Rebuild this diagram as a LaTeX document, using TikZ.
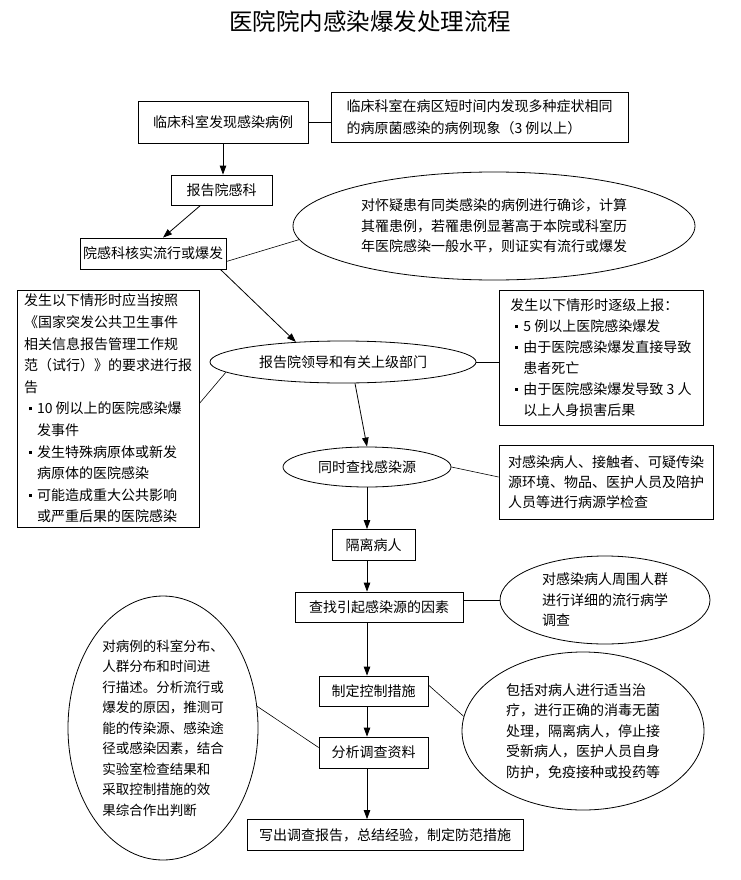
\documentclass[tikz,border=0pt]{standalone}
\usepackage{fontspec}
\setmainfont{Noto Sans CJK SC}
\usetikzlibrary{shapes.geometric, arrows.meta, positioning, calc}
\newcommand{\sqb}{\raisebox{3.5pt}{\rule{3pt}{3pt}}}
\newcommand{\bul}{\hspace*{5pt}\sqb\hspace{5pt}}
\tikzset{
    box/.style={
        rectangle, draw=black, line width=0.8pt, inner sep=0pt,
        align=center, font=\fontsize{14pt}{21.5pt}\selectfont
    },
    notebox/.style={box, align=left},
    oval/.style={
        ellipse, draw=black, line width=0.8pt, inner sep=0pt,
        align=left, font=\fontsize{14pt}{20.5pt}\selectfont
    },
    arrow/.style={-{Triangle[length=9pt, width=6.5pt]}, line width=0.8pt},
    link/.style={line width=0.6pt},
    heading/.style={font=\fontsize{23.5pt}{28pt}\selectfont},
}

\begin{document}
\begin{tikzpicture}[x=1pt, y=-1pt]
    \fill[white] (0,0) rectangle (740,880);
    \useasboundingbox (0,0) rectangle (740,880);

    \node[heading] (title) at (370, 22) {医院院内感染爆发处理流程};

    \coordinate (col) at (367, 0);

    \node[box, minimum width=170pt, minimum height=42pt] (clinic) at (223, 122) {临床科室发现感染病例};
    \node[notebox, minimum width=297pt, minimum height=50pt] (clinicnote) at (479.5, 117)
        {临床科室在病区短时间内发现多种症状相同\\的病原菌感染的病例现象（3 例以上）};

    \node[box, minimum width=101pt, minimum height=30pt] (notify) at (221.5, 190) {报告院感科};
    \node[box, minimum width=146pt, minimum height=31pt] (verify) at (153, 253.5) {院感科核实流行或爆发};
    \node[oval, minimum width=402pt, minimum height=108pt] (verifynote) at (494, 226)
        {对怀疑患有同类感染的病例进行确诊，计算\\其罹患例，若罹患例显著高于本院或科室历\\年医院感染一般水平，则证实有流行或爆发};

    \node[oval, minimum width=266pt, minimum height=42pt, align=center] (leaders) at (343, 362) {报告院领导和有关上级部门};
    \node[notebox, minimum width=182pt, minimum height=237pt, font=\fontsize{14pt}{21.6pt}\selectfont] (lawnote) at (108, 408.5)
        {发生以下情形时应当按照\\《国家突发公共卫生事件\\相关信息报告管理工作规\\范（试行）》的要求进行报\\告\\
         \bul 10 例以上的医院感染爆\\\hspace*{13pt}发事件\\
         \bul 发生特殊病原体或新发\\\hspace*{13pt}病原体的医院感染\\
         \bul 可能造成重大公共影响\\\hspace*{13pt}或严重后果的医院感染};
    \node[notebox, minimum width=204pt, minimum height=135pt, font=\fontsize{14pt}{21pt}\selectfont] (upnote) at (601, 357.5)
        {发生以下情形时逐级上报：\\
         \bul 5 例以上医院感染爆发\\
         \bul 由于医院感染爆发直接导致\\\hspace*{13pt}患者死亡\\
         \bul 由于医院感染爆发导致 3 人\\\hspace*{13pt}以上人身损害后果};

    \node[oval, minimum width=168pt, minimum height=40pt, align=center] (search) at (367, 467) {同时查找感染源};
    \node[notebox, minimum width=214pt, minimum height=74pt, font=\fontsize{14pt}{20pt}\selectfont] (searchnote) at (606, 482)
        {对感染病人、接触者、可疑传染\\源环境、物品、医护人员及陪护\\人员等进行病源学检查};

    \node[box, minimum width=83pt, minimum height=31pt] (isolate) at (373.5, 545) {隔离病人};
    \node[box, minimum width=168pt, minimum height=30pt] (factors) at (379, 607) {查找引起感染源的因素};
    \node[oval, minimum width=210pt, minimum height=88pt] (factorsnote) at (605, 600)
        {对感染病人周围人群\\进行详细的流行病学\\调查};

    \node[box, minimum width=109pt, minimum height=30pt] (control) at (373.5, 691) {制定控制措施};
    \node[oval, minimum width=242pt, minimum height=158pt] (controlnote) at (583, 731)
        {包括对病人进行适当治\\疗，进行正确的消毒无菌\\处理，隔离病人，停止接\\受新病人，医护人员自身\\防护，免疫接种或投药等};

    \node[box, minimum width=109pt, minimum height=31pt] (analyse) at (373.5, 752.5) {分析调查资料};
    \node[oval, minimum width=190pt, minimum height=264pt, font=\fontsize{13.5pt}{20.5pt}\selectfont] (analysenote) at (163, 728)
        {对病例的科室分布、\\人群分布和时间进\\行描述。分析流行或\\爆发的原因，推测可\\能的传染源、感染途\\径或感染因素，结合\\实验室检查结果和\\采取控制措施的效\\果综合作出判断};

    \node[box, minimum width=276pt, minimum height=31pt] (summary) at (385, 835) {写出调查报告，总结经验，制定防范措施};

    % main flow
    \draw[arrow] (clinic.south) -- (clinic.south |- notify.north);
    \draw[arrow] ([xshift=-21pt]notify.south) -- ([xshift=10pt]verify.north);
    \draw[arrow] ([xshift=-6pt]verify.south east) -- (leaders.157);
    \draw[arrow] ([xshift=12pt]leaders.south) -- (search.north);
    \draw[arrow] (col |- search.south) -- (col |- isolate.north);
    \draw[arrow] (col |- isolate.south) -- (col |- factors.north);
    \draw[arrow] (col |- factors.south) -- (col |- control.north);
    \draw[arrow] (col |- control.south) -- (col |- analyse.north);
    \draw[arrow] (col |- analyse.south) -- (col |- summary.north);

    % notes
    \draw[link] (clinic.east) -- (clinic.east -| clinicnote.west);
    \draw[link] ([yshift=-8pt]verify.east) -- (verifynote.184);
    \draw[link] ([yshift=5pt]lawnote.east) -- (leaders.185);
    \draw[link] (leaders.east) -- (leaders.east -| upnote.west);
    \draw[link] (search.east) -- ([yshift=5pt]searchnote.west);
    \draw[link] (factorsnote.west -| factors.east) -- (factorsnote.west);
    \draw[link] ([yshift=6pt]control.east) -- (controlnote.173);
    \draw[link] (analysenote.13) -- ([yshift=5pt]analyse.west);
\end{tikzpicture}
\end{document}
